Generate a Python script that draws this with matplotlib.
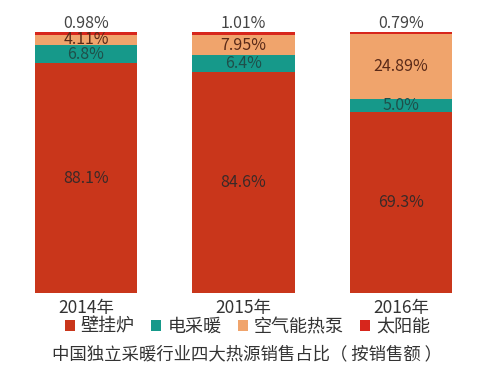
import matplotlib
matplotlib.use("Agg")
import matplotlib.pyplot as plt
from matplotlib.patches import Patch
import numpy as np

plt.rcParams['font.family'] = ['Noto Sans CJK SC', 'DejaVu Sans']

years = ['2014年', '2015年', '2016年']
series = ['壁挂炉', '电采暖', '空气能热泵', '太阳能']
values = {
    '壁挂炉': [88.1, 84.6, 69.3],
    '电采暖': [6.8, 6.4, 5.0],
    '空气能热泵': [4.11, 7.95, 24.89],
    '太阳能': [0.98, 1.01, 0.79],
}
labels = {
    '壁挂炉': ['88.1%', '84.6%', '69.3%'],
    '电采暖': ['6.8%', '6.4%', '5.0%'],
    '空气能热泵': ['4.11%', '7.95%', '24.89%'],
    '太阳能': ['0.98%', '1.01%', '0.79%'],
}
colors = ['#C9361B', '#16998A', '#F0A46C', '#D7261C']
text_colors = ['#3a2a28', '#1f4f4a', '#5a2a18', '#444444']
title = '中国独立采暖行业四大热源销售占比（ 按销售额 ）'

fig = plt.figure(figsize=(5, 3.75), dpi=100)
ax = fig.add_axes([0, 1 - 293 / 375, 1, 261 / 375])
x = np.arange(len(years))
bottom = np.zeros(len(years))
for s, c, tc in zip(series, colors, text_colors):
    v = np.array(values[s])
    ax.bar(x, v, 0.648, bottom=bottom, color=c, edgecolor='none')
    for i in range(len(years)):
        if s == '太阳能':
            y = bottom[i] + v[i] + 3.4
        else:
            y = bottom[i] + v[i] / 2
        ax.text(x[i], y, labels[s][i], ha='center', va='center',
                fontsize=11.5, color=tc, clip_on=False)
    bottom += v

ax.set_xlim(-86 / 157.5, (500 - 86) / 157.5)
ax.set_ylim(0, 100)
ax.axis('off')

for i, yr in enumerate(years):
    ax.text(x[i], -5.8, yr, ha='center', va='center', fontsize=12.5, color='#333333', clip_on=False)

handles = [Patch(facecolor=c, edgecolor='none') for c in colors]
fig.legend(handles, series, loc='center', bbox_to_anchor=(0.495, 1 - 327 / 375), ncol=4,
           frameon=False, fontsize=13, handlelength=0.55, handleheight=0.55,
           handletextpad=0.35, columnspacing=0.9, labelcolor='#333333')
fig.text(0.495, 1 - 354 / 375, title, ha='center', va='center', fontsize=12.5, color='#333333')

fig.savefig('out.png', dpi=100)
